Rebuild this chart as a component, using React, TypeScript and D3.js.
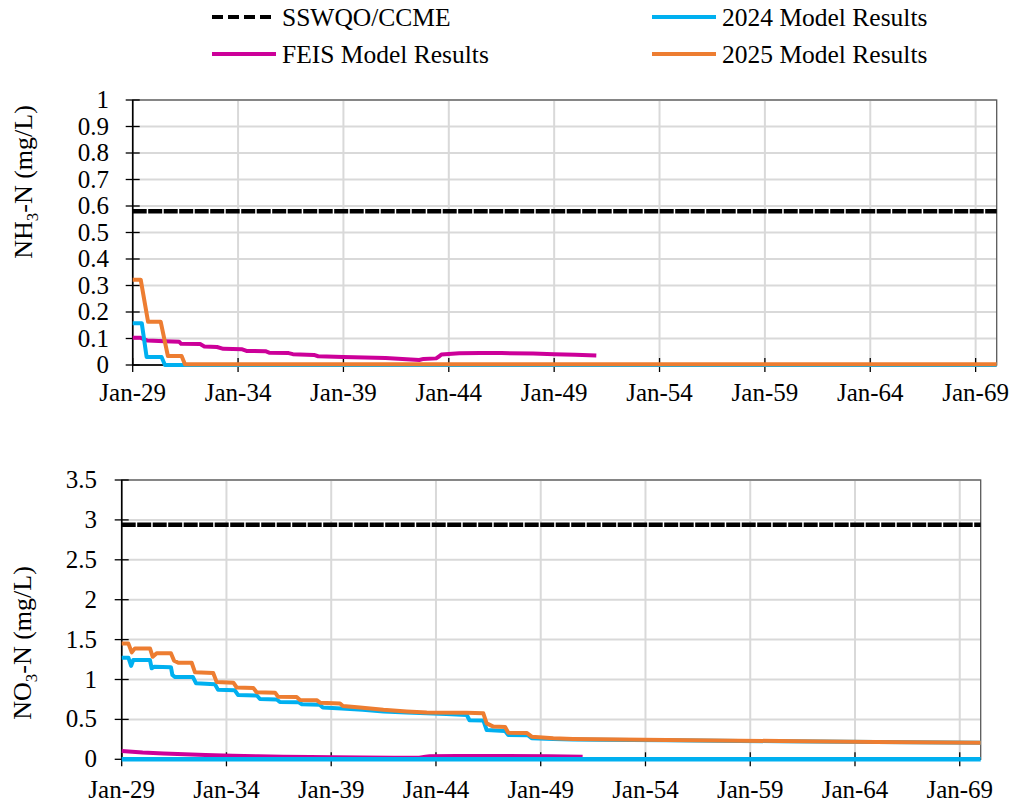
import React from "react";
import * as d3 from "d3";

// ---------- data ----------
const xTickYears = [2029, 2034, 2039, 2044, 2049, 2054, 2059, 2064, 2069];
const xTickLabels = ["Jan-29", "Jan-34", "Jan-39", "Jan-44", "Jan-49", "Jan-54", "Jan-59", "Jan-64", "Jan-69"];
const xDomain = [2029, 2070];

const nh3Ticks = [0, 0.1, 0.2, 0.3, 0.4, 0.5, 0.6, 0.7, 0.8, 0.9, 1];
const nh3TickLabels = ["0", "0.1", "0.2", "0.3", "0.4", "0.5", "0.6", "0.7", "0.8", "0.9", "1"];
const no3Ticks = [0, 0.5, 1, 1.5, 2, 2.5, 3, 3.5];
const no3TickLabels = ["0", "0.5", "1", "1.5", "2", "2.5", "3", "3.5"];

const nh3Guideline = 0.58;
const no3Guideline = 2.94;

// [decimal year, value]
const nh3Feis: [number, number][] = [
  [2029.0, 0.103], [2029.35, 0.103], [2029.7, 0.092], [2030.5, 0.09], [2031.2, 0.088], [2031.3, 0.08],
  [2032.2, 0.079], [2032.4, 0.07], [2033.0, 0.068], [2033.3, 0.061], [2034.2, 0.059], [2034.4, 0.053],
  [2035.3, 0.052], [2035.5, 0.046], [2036.4, 0.045], [2036.6, 0.041], [2037.6, 0.038], [2037.8, 0.033],
  [2039.0, 0.03], [2040.0, 0.028], [2041.0, 0.026], [2042.0, 0.022], [2042.6, 0.019], [2042.8, 0.023],
  [2043.4, 0.025], [2043.55, 0.033], [2043.65, 0.04], [2044.5, 0.044], [2045.5, 0.045], [2046.5, 0.045],
  [2048.0, 0.043], [2049.0, 0.041], [2050.0, 0.039], [2051.0, 0.036],
];
const nh3M2024: [number, number][] = [
  [2029.0, 0.158], [2029.43, 0.158], [2029.66, 0.03], [2030.37, 0.03], [2030.53, 0.0], [2070.0, 0.0],
];
const nh3M2025: [number, number][] = [
  [2029.0, 0.322], [2029.38, 0.322], [2029.73, 0.163], [2030.33, 0.163], [2030.67, 0.034], [2031.32, 0.034],
  [2031.48, 0.003], [2070.0, 0.003],
];

const no3Feis: [number, number][] = [
  [2029.0, 0.104], [2030.0, 0.085], [2031.0, 0.072], [2032.0, 0.062], [2033.0, 0.055], [2034.3, 0.045],
  [2035.5, 0.038], [2036.7, 0.033], [2038.0, 0.028], [2039.1, 0.025], [2040.5, 0.022], [2042.0, 0.02],
  [2043.2, 0.02], [2043.5, 0.032], [2043.7, 0.038], [2045.0, 0.041], [2047.0, 0.041], [2049.4, 0.038],
  [2051.0, 0.033],
];
const no3M2024Zero: [number, number][] = [
  [2029.0, 0.0], [2070.0, 0.0],
];
const no3M2024: [number, number][] = [
  [2029.0, 1.273], [2029.32, 1.273], [2029.45, 1.17], [2029.55, 1.244], [2030.35, 1.244], [2030.43, 1.14],
  [2030.55, 1.16], [2031.35, 1.155], [2031.42, 1.056], [2031.55, 1.03], [2032.4, 1.03], [2032.55, 0.952],
  [2033.45, 0.94], [2033.6, 0.87], [2034.4, 0.865], [2034.55, 0.806], [2035.45, 0.8], [2035.6, 0.756],
  [2036.4, 0.75], [2036.55, 0.718], [2037.45, 0.715], [2037.6, 0.69], [2038.45, 0.685], [2038.6, 0.65],
  [2039.5, 0.637], [2040.5, 0.62], [2041.5, 0.6], [2042.6, 0.588], [2043.56, 0.578], [2044.5, 0.568],
  [2045.47, 0.555], [2045.6, 0.49], [2046.26, 0.487], [2046.42, 0.367], [2047.3, 0.355], [2047.45, 0.305],
  [2048.4, 0.3], [2048.57, 0.263], [2049.6, 0.255], [2050.54, 0.249], [2051.67, 0.245], [2055.0, 0.238],
  [2060.42, 0.226], [2065.0, 0.216], [2070.0, 0.206],
];
const no3M2025: [number, number][] = [
  [2029.0, 1.45], [2029.32, 1.45], [2029.48, 1.34], [2029.63, 1.39], [2030.35, 1.39], [2030.48, 1.285],
  [2030.67, 1.33], [2031.35, 1.33], [2031.5, 1.236], [2031.7, 1.21], [2032.34, 1.21], [2032.5, 1.09],
  [2033.37, 1.08], [2033.53, 0.97], [2034.33, 0.96], [2034.49, 0.9], [2035.28, 0.895], [2035.44, 0.84],
  [2036.32, 0.835], [2036.46, 0.785], [2037.35, 0.78], [2037.51, 0.743], [2038.31, 0.74], [2038.47, 0.71],
  [2039.42, 0.7], [2039.56, 0.668], [2040.37, 0.65], [2041.49, 0.62], [2042.6, 0.6], [2043.56, 0.588],
  [2045.47, 0.582], [2046.26, 0.576], [2046.42, 0.45], [2046.74, 0.41], [2047.3, 0.405], [2047.45, 0.333],
  [2048.33, 0.33], [2048.57, 0.283], [2049.6, 0.263], [2050.54, 0.255], [2051.67, 0.25], [2055.0, 0.242],
  [2060.42, 0.229], [2065.0, 0.218], [2070.0, 0.208],
];

// ---------- styles ----------
const FONT = "'Liberation Serif', 'Times New Roman', Times, serif";
const C_FEIS = "#CC0099";
const C_2024 = "#00B0F0";
const C_2025 = "#ED7D31";
const C_GRID = "#D9D9D9";

type Series = { data: [number, number][]; color: string; width: number };

function Panel(props: {
  left: number; right: number; top: number; bottom: number;
  ticks: number[]; tickLabels: string[]; yMax: number;
  guideline: number; series: Series[];
  titleMain: string; titleRest: string; titleX: number; titleY: number;
  yLabelRight: number; xLabelBaseline: number;
}) {
  const { left, right, top, bottom, ticks, tickLabels, yMax, guideline, series } = props;
  const x = d3.scaleLinear().domain(xDomain).range([left, right]);
  const y = d3.scaleLinear().domain([0, yMax]).range([bottom, top]);
  const line = d3.line<[number, number]>().x((d) => x(d[0])).y((d) => y(d[1]));
  const guideData: [number, number][] = [[xDomain[0], guideline], [xDomain[1], guideline]];
  return (
    <g>
      {ticks.map((t, i) => (
        <line key={"hg" + i} x1={left} x2={right} y1={y(t)} y2={y(t)} stroke={C_GRID} strokeWidth={2} />
      ))}
      {xTickYears.map((t, i) => (
        <line key={"vg" + i} x1={x(t)} x2={x(t)} y1={top} y2={bottom} stroke={C_GRID} strokeWidth={2} />
      ))}
      <rect x={left} y={top} width={right - left} height={bottom - top} fill="none" stroke="#595959" strokeWidth={1.3} />
      <line x1={left} x2={left} y1={top} y2={bottom} stroke="#000" strokeWidth={1.5} />
      <line x1={left} x2={right} y1={bottom} y2={bottom} stroke="#000" strokeWidth={1.5} />
      {ticks.map((t, i) => (
        <line key={"yt" + i} x1={left - 7} x2={left + 7} y1={y(t)} y2={y(t)} stroke="#000" strokeWidth={1.3} />
      ))}
      {xTickYears.map((t, i) => (
        <line key={"xt" + i} x1={x(t)} x2={x(t)} y1={bottom - 7} y2={bottom + 7} stroke="#000" strokeWidth={1.3} />
      ))}
      <path d={line(guideData) || ""} fill="none" stroke="#000" strokeWidth={4.5} strokeDasharray="14 1.5" />
      {series.map((s, i) => (
        <path key={"s" + i} d={line(s.data) || ""} fill="none" stroke={s.color} strokeWidth={s.width}
          strokeLinejoin="round" strokeLinecap="butt" />
      ))}
      {ticks.map((t, i) => (
        <text key={"yl" + i} x={props.yLabelRight} y={y(t) + 8} textAnchor="end" fontSize={25} fontFamily={FONT}>
          {tickLabels[i]}
        </text>
      ))}
      {xTickYears.map((t, i) => (
        <text key={"xl" + i} x={x(t)} y={props.xLabelBaseline} textAnchor="middle" fontSize={25} fontFamily={FONT}>
          {xTickLabels[i]}
        </text>
      ))}
      <text transform={`translate(${props.titleX},${props.titleY}) rotate(-90)`} textAnchor="middle"
        fontSize={26} fontFamily={FONT}>
        <tspan>{props.titleMain}</tspan>
        <tspan fontSize={17} dy={6}>3</tspan>
        <tspan dy={-6}>{props.titleRest}</tspan>
      </text>
    </g>
  );
}

function Legend() {
  const items = [
    { label: "SSWQO/CCME", color: "#000", dash: "11 5", x: 212, y: 17 },
    { label: "FEIS Model Results", color: C_FEIS, dash: undefined, x: 212, y: 54 },
    { label: "2024 Model Results", color: C_2024, dash: undefined, x: 652, y: 17 },
    { label: "2025 Model Results", color: C_2025, dash: undefined, x: 652, y: 54 },
  ];
  return (
    <g>
      {items.map((it, i) => (
        <g key={i}>
          <line x1={it.x} x2={it.x + 64} y1={it.y} y2={it.y} stroke={it.color} strokeWidth={4}
            strokeDasharray={it.dash} />
          <text x={it.x + 70} y={it.y + 9} fontSize={25.5} fontFamily={FONT}>{it.label}</text>
        </g>
      ))}
    </g>
  );
}

export default function App() {
  return (
    <svg width={1016} height={808} style={{ position: "absolute", left: 0, top: 0, background: "#fff" }}>
      <rect x={0} y={0} width={1016} height={808} fill="#fff" />
      <Legend />
      <Panel
        left={132.7} right={996.7} top={100} bottom={365}
        ticks={nh3Ticks} tickLabels={nh3TickLabels} yMax={1}
        guideline={nh3Guideline}
        series={[
          { data: nh3Feis, color: C_FEIS, width: 4 },
          { data: nh3M2024, color: C_2024, width: 4 },
          { data: nh3M2025, color: C_2025, width: 4 },
        ]}
        titleMain="NH" titleRest="-N (mg/L)" titleX={32} titleY={182}
        yLabelRight={109} xLabelBaseline={401}
      />
      <Panel
        left={121.7} right={980.7} top={480} bottom={759.3}
        ticks={no3Ticks} tickLabels={no3TickLabels} yMax={3.5}
        guideline={no3Guideline}
        series={[
          { data: no3Feis, color: C_FEIS, width: 4 },
          { data: no3M2024Zero, color: C_2024, width: 4.5 },
          { data: no3M2024, color: C_2024, width: 4 },
          { data: no3M2025, color: C_2025, width: 4 },
        ]}
        titleMain="NO" titleRest="-N (mg/L)" titleX={31} titleY={643}
        yLabelRight={97} xLabelBaseline={798}
      />
    </svg>
  );
}
